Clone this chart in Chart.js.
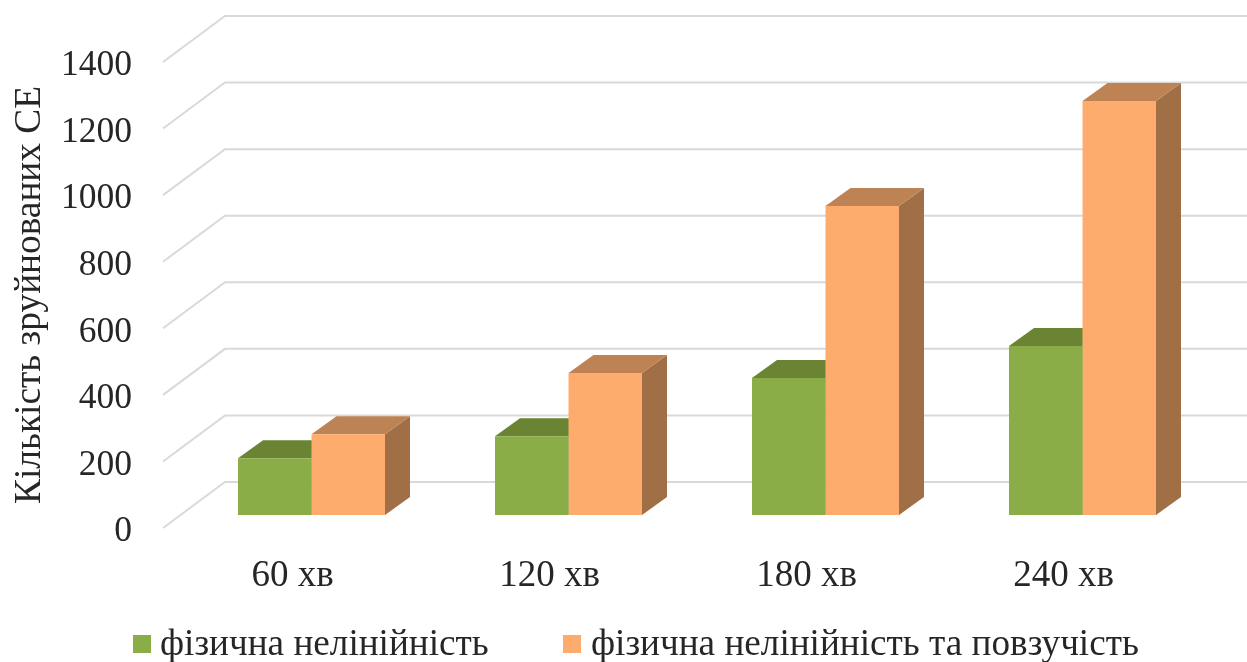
<!DOCTYPE html>
<html>
<head>
<meta charset="utf-8">
<style>
    html, body { margin: 0; padding: 0; background: #fff; }
    #wrap { width: 1247px; height: 662px; }
</style>
<script src="https://cdn.jsdelivr.net/npm/chart.js@4"></script>
</head>
<body>
<div id="wrap"><canvas id="chart"></canvas></div>
<script>
const categories = ['60 хв', '120 хв', '180 хв', '240 хв'];
const seriesNames = ['фізична нелінійність', 'фізична нелінійність та повзучість'];
const physNonlinear = [171, 237, 412, 508];
const physCreep = [243, 427, 929, 1245];
const yTicks = [0, 200, 400, 600, 800, 1000, 1200, 1400];

const FONT = '"Liberation Serif", "Times New Roman", serif';
const TEXT = '#262626';
const GRID = '#d9d9d9';

// кольори граней: фронт, верх, бік
const faces = [
    { front: '#8bad47', top: '#6b8433', side: '#5f7a2e' },
    { front: '#fdac6e', top: '#be8354', side: '#a06f45' }
];

// зсув задньої стінки та глибина стовпчика
const WALL_DX = 62, WALL_DY = -46;
const BAR_DX = 25, BAR_DY = -18;

// позиції легенди: квадрат і текст
const legendPos = [{ box: 133, text: 160 }, { box: 563, text: 591 }];

function poly(ctx, color, pts) {
    ctx.fillStyle = color;
    ctx.beginPath();
    pts.forEach((p, i) => i ? ctx.lineTo(p[0], p[1]) : ctx.moveTo(p[0], p[1]));
    ctx.closePath();
    ctx.fill();
}

const pseudo3d = {
    id: 'pseudo3d',
    beforeDatasetsDraw(chart) {
        const ctx = chart.ctx;
        const y = chart.scales.y;
        const x0 = chart.chartArea.left - 20;

        // стінка та бічна грань
        ctx.save();
        ctx.strokeStyle = GRID;
        ctx.lineWidth = 2;
        yTicks.forEach(v => {
            const py = y.getPixelForValue(v);
            ctx.beginPath();
            ctx.moveTo(x0, py);
            ctx.lineTo(x0 + WALL_DX, py + WALL_DY);
            ctx.lineTo(chart.width, py + WALL_DY);
            ctx.stroke();
        });

        // верх і бік кожного стовпчика
        chart.data.datasets.forEach((ds, i) => {
            chart.getDatasetMeta(i).data.forEach(bar => {
                const l = bar.x - bar.width / 2, r = bar.x + bar.width / 2;
                poly(ctx, faces[i].side, [[r, bar.y], [r + BAR_DX, bar.y + BAR_DY], [r + BAR_DX, bar.base + BAR_DY], [r, bar.base]]);
                poly(ctx, faces[i].top, [[l, bar.y], [l + BAR_DX, bar.y + BAR_DY], [r + BAR_DX, bar.y + BAR_DY], [r, bar.y]]);
            });
        });
        ctx.restore();
    },
    afterDraw(chart) {
        // легенда вручну: у штатної завеликий відступ між квадратом і текстом
        const ctx = chart.ctx;
        ctx.save();
        ctx.font = '37.2px ' + FONT;
        ctx.textBaseline = 'alphabetic';
        seriesNames.forEach((name, i) => {
            ctx.fillStyle = faces[i].front;
            ctx.fillRect(legendPos[i].box, 635, 18, 18);
            ctx.fillStyle = TEXT;
            ctx.fillText(name, legendPos[i].text, 655);
        });
        ctx.restore();
    }
};

new Chart(document.getElementById('chart'), {
    type: 'bar',
    data: {
        labels: categories,
        datasets: [
            { label: seriesNames[0], data: physNonlinear, backgroundColor: faces[0].front, yAxisID: 'yBars' },
            { label: seriesNames[1], data: physCreep, backgroundColor: faces[1].front, yAxisID: 'yBars' }
        ]
    },
    options: {
        responsive: true,
        maintainAspectRatio: false,
        animation: false,
        layout: { padding: { left: 0, right: 36, top: 62, bottom: 0 } },
        datasets: { bar: { barPercentage: 1, categoryPercentage: 0.572 } },
        plugins: {
            tooltip: { enabled: false },
            legend: { display: false }
        },
        scales: {
            x: {
                afterFit(scale) { scale.height = 134; },
                grid: { display: false },
                border: { display: false },
                ticks: {
                    color: TEXT,
                    font: { family: FONT, size: 37 },
                    labelOffset: -19,
                    padding: 18,
                    maxRotation: 0
                }
            },
            y: {
                min: 0,
                max: 1400,
                afterBuildTicks(scale) { scale.ticks = yTicks.map(v => ({ value: v })); },
                afterFit(scale) {
                    scale.width = 183;
                    scale.paddingTop = 0;
                    scale.paddingBottom = 0;
                },
                grid: { display: false, drawTicks: false },
                border: { display: false },
                title: {
                    display: true,
                    text: 'Кількість зруйнованих СЕ',
                    color: TEXT,
                    font: { family: FONT, size: 37.3 },
                    padding: { top: 8, bottom: 0 }
                },
                ticks: {
                    color: TEXT,
                    font: { family: FONT, size: 35.5 },
                    padding: 51,
                    labelOffset: 4,
                    callback: v => String(v)
                }
            },
            // окрема вісь для стовпчиків: їхня основа лежить вище за 0 на бічній стінці
            yBars: {
                display: false,
                min: -39,
                max: 1362
            }
        }
    },
    plugins: [pseudo3d]
});
</script>
</body>
</html>
